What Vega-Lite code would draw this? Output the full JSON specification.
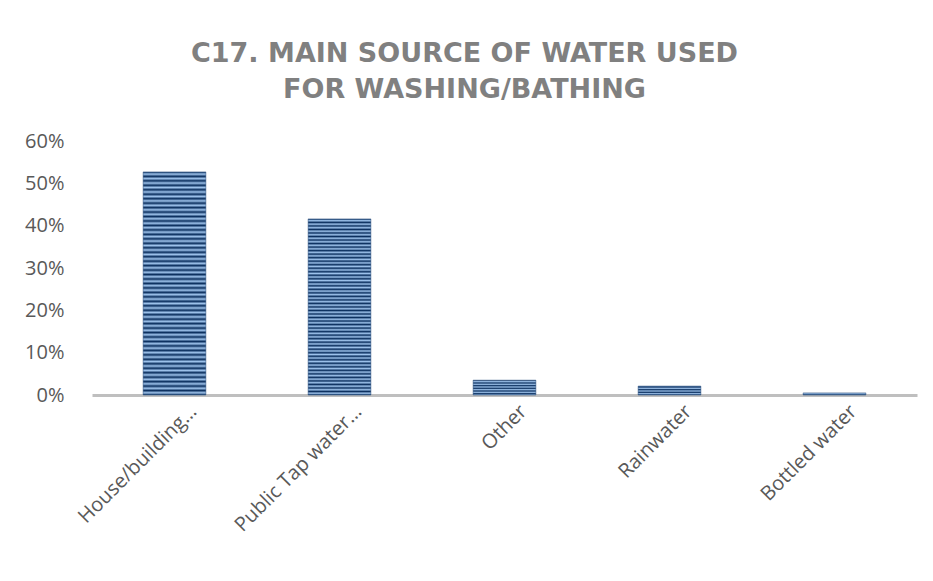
{
  "$schema": "https://vega.github.io/schema/vega-lite/v6.json",
  "width": 825,
  "height": 254,
  "autosize": "none",
  "padding": {"left": 92, "top": 141, "right": 16, "bottom": 186},
  "background": "white",
  "config": {"view": {"stroke": null}},
  "title": {
    "text": ["C17. MAIN SOURCE OF WATER USED", "FOR WASHING/BATHING"],
    "font": "DejaVu Sans",
    "fontSize": 27,
    "fontWeight": "bold",
    "color": "#808080",
    "lineHeight": 36,
    "anchor": "middle",
    "dx": -40,
    "offset": 27
  },
  "data": {
    "values": [
      {"source": "House/building…", "pct": 0.527},
      {"source": "Public Tap water…", "pct": 0.416},
      {"source": "Other", "pct": 0.035},
      {"source": "Rainwater", "pct": 0.021},
      {"source": "Bottled water", "pct": 0.005}
    ]
  },
  "mark": {
    "type": "bar",
    "color": {
      "gradient": "linear",
      "x1": 0, "y1": 0, "x2": 0, "y2": 1,
      "stops": [
        {"offset": 0.00, "color": "#0b2f5e"}, {"offset": 0.01, "color": "#9ec3ec"},
        {"offset": 0.02, "color": "#0b2f5e"}, {"offset": 0.03, "color": "#9ec3ec"},
        {"offset": 0.04, "color": "#0b2f5e"}, {"offset": 0.05, "color": "#9ec3ec"},
        {"offset": 0.06, "color": "#0b2f5e"}, {"offset": 0.07, "color": "#9ec3ec"},
        {"offset": 0.08, "color": "#0b2f5e"}, {"offset": 0.09, "color": "#9ec3ec"},
        {"offset": 0.10, "color": "#0b2f5e"}, {"offset": 0.11, "color": "#9ec3ec"},
        {"offset": 0.12, "color": "#0b2f5e"}, {"offset": 0.13, "color": "#9ec3ec"},
        {"offset": 0.14, "color": "#0b2f5e"}, {"offset": 0.15, "color": "#9ec3ec"},
        {"offset": 0.16, "color": "#0b2f5e"}, {"offset": 0.17, "color": "#9ec3ec"},
        {"offset": 0.18, "color": "#0b2f5e"}, {"offset": 0.19, "color": "#9ec3ec"},
        {"offset": 0.20, "color": "#0b2f5e"}, {"offset": 0.21, "color": "#9ec3ec"},
        {"offset": 0.22, "color": "#0b2f5e"}, {"offset": 0.23, "color": "#9ec3ec"},
        {"offset": 0.24, "color": "#0b2f5e"}, {"offset": 0.25, "color": "#9ec3ec"},
        {"offset": 0.26, "color": "#0b2f5e"}, {"offset": 0.27, "color": "#9ec3ec"},
        {"offset": 0.28, "color": "#0b2f5e"}, {"offset": 0.29, "color": "#9ec3ec"},
        {"offset": 0.30, "color": "#0b2f5e"}, {"offset": 0.31, "color": "#9ec3ec"},
        {"offset": 0.32, "color": "#0b2f5e"}, {"offset": 0.33, "color": "#9ec3ec"},
        {"offset": 0.34, "color": "#0b2f5e"}, {"offset": 0.35, "color": "#9ec3ec"},
        {"offset": 0.36, "color": "#0b2f5e"}, {"offset": 0.37, "color": "#9ec3ec"},
        {"offset": 0.38, "color": "#0b2f5e"}, {"offset": 0.39, "color": "#9ec3ec"},
        {"offset": 0.40, "color": "#0b2f5e"}, {"offset": 0.41, "color": "#9ec3ec"},
        {"offset": 0.42, "color": "#0b2f5e"}, {"offset": 0.43, "color": "#9ec3ec"},
        {"offset": 0.44, "color": "#0b2f5e"}, {"offset": 0.45, "color": "#9ec3ec"},
        {"offset": 0.46, "color": "#0b2f5e"}, {"offset": 0.47, "color": "#9ec3ec"},
        {"offset": 0.48, "color": "#0b2f5e"}, {"offset": 0.49, "color": "#9ec3ec"},
        {"offset": 0.50, "color": "#0b2f5e"}, {"offset": 0.51, "color": "#9ec3ec"},
        {"offset": 0.52, "color": "#0b2f5e"}, {"offset": 0.53, "color": "#9ec3ec"},
        {"offset": 0.54, "color": "#0b2f5e"}, {"offset": 0.55, "color": "#9ec3ec"},
        {"offset": 0.56, "color": "#0b2f5e"}, {"offset": 0.57, "color": "#9ec3ec"},
        {"offset": 0.58, "color": "#0b2f5e"}, {"offset": 0.59, "color": "#9ec3ec"},
        {"offset": 0.60, "color": "#0b2f5e"}, {"offset": 0.61, "color": "#9ec3ec"},
        {"offset": 0.62, "color": "#0b2f5e"}, {"offset": 0.63, "color": "#9ec3ec"},
        {"offset": 0.64, "color": "#0b2f5e"}, {"offset": 0.65, "color": "#9ec3ec"},
        {"offset": 0.66, "color": "#0b2f5e"}, {"offset": 0.67, "color": "#9ec3ec"},
        {"offset": 0.68, "color": "#0b2f5e"}, {"offset": 0.69, "color": "#9ec3ec"},
        {"offset": 0.70, "color": "#0b2f5e"}, {"offset": 0.71, "color": "#9ec3ec"},
        {"offset": 0.72, "color": "#0b2f5e"}, {"offset": 0.73, "color": "#9ec3ec"},
        {"offset": 0.74, "color": "#0b2f5e"}, {"offset": 0.75, "color": "#9ec3ec"},
        {"offset": 0.76, "color": "#0b2f5e"}, {"offset": 0.77, "color": "#9ec3ec"},
        {"offset": 0.78, "color": "#0b2f5e"}, {"offset": 0.79, "color": "#9ec3ec"},
        {"offset": 0.80, "color": "#0b2f5e"}, {"offset": 0.81, "color": "#9ec3ec"},
        {"offset": 0.82, "color": "#0b2f5e"}, {"offset": 0.83, "color": "#9ec3ec"},
        {"offset": 0.84, "color": "#0b2f5e"}, {"offset": 0.85, "color": "#9ec3ec"},
        {"offset": 0.86, "color": "#0b2f5e"}, {"offset": 0.87, "color": "#9ec3ec"},
        {"offset": 0.88, "color": "#0b2f5e"}, {"offset": 0.89, "color": "#9ec3ec"},
        {"offset": 0.90, "color": "#0b2f5e"}, {"offset": 0.91, "color": "#9ec3ec"},
        {"offset": 0.92, "color": "#0b2f5e"}, {"offset": 0.93, "color": "#9ec3ec"},
        {"offset": 0.94, "color": "#0b2f5e"}, {"offset": 0.95, "color": "#9ec3ec"},
        {"offset": 0.96, "color": "#0b2f5e"}, {"offset": 0.97, "color": "#9ec3ec"},
        {"offset": 0.98, "color": "#0b2f5e"}, {"offset": 0.99, "color": "#9ec3ec"},
        {"offset": 1.00, "color": "#0b2f5e"}
      ]
    },
    "stroke": "#1f4575",
    "strokeWidth": 0.5
  },
  "encoding": {
    "x": {
      "field": "source",
      "type": "nominal",
      "sort": null,
      "title": null,
      "scale": {"paddingInner": 0.62, "paddingOuter": 0.31},
      "axis": {
        "labelAngle": -45,
        "labelFont": "Open Sans",
        "labelFontSize": 20,
        "labelColor": "#595959",
        "labelPadding": 6,
        "labelOffset": 12,
        "labelLimit": 300,
        "ticks": false,
        "domainColor": "#bfbfbf",
        "domainWidth": 3
      }
    },
    "y": {
      "field": "pct",
      "type": "quantitative",
      "title": null,
      "scale": {"domain": [0, 0.6]},
      "axis": {
        "format": ".0%",
        "values": [0, 0.1, 0.2, 0.3, 0.4, 0.5, 0.6],
        "grid": false,
        "domain": false,
        "ticks": false,
        "labelFont": "Open Sans",
        "labelFontSize": 20,
        "labelColor": "#595959",
        "labelPadding": 28
      }
    }
  }
}
